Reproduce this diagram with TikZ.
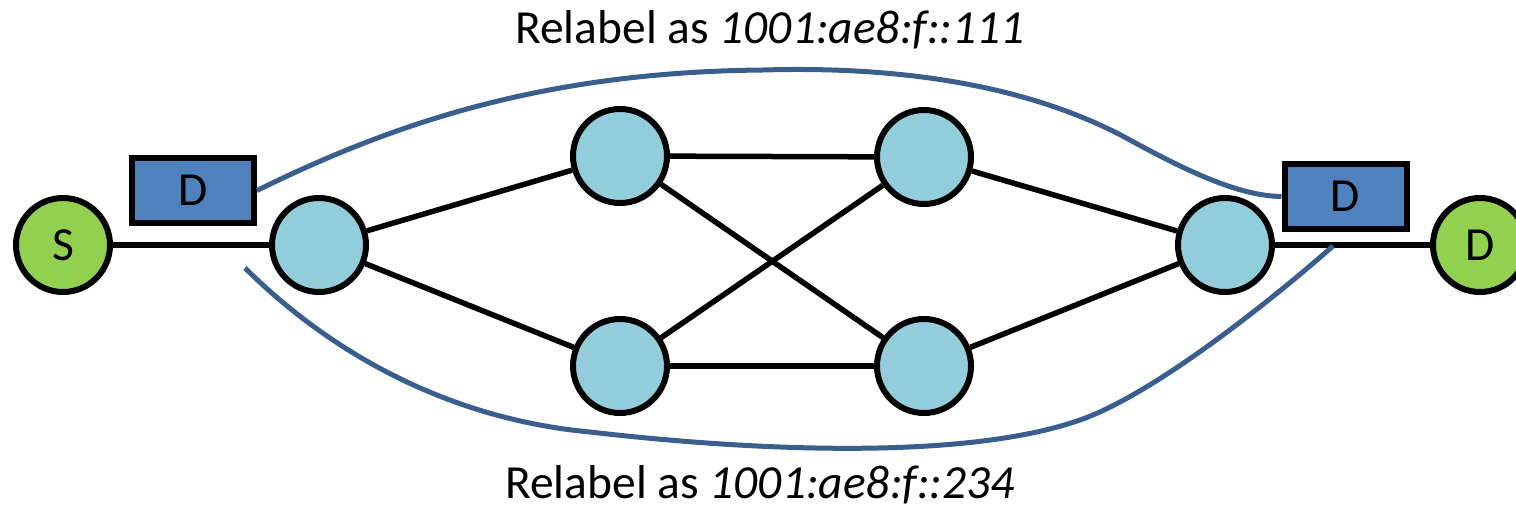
\documentclass[tikz,border=0pt]{standalone}
\usepackage{fontspec}
\setmainfont{Carlito}
\definecolor{hostgreen}{HTML}{92D050}
\definecolor{routerblue}{HTML}{92CDDC}
\definecolor{hdrblue}{HTML}{4F81BD}
\definecolor{pathblue}{HTML}{3A5F8E}
\begin{document}
\begin{tikzpicture}[x=1pt,y=-1pt,
  font=\fontsize{47.5}{57}\selectfont,
  router/.style={circle, draw=black, line width=6pt, fill=routerblue,
                 minimum size=94pt, inner sep=0pt},
  host/.style={router, fill=hostgreen},
  hdr/.style={rectangle, draw=black, line width=6pt, fill=hdrblue,
              minimum width=122pt, minimum height=65pt, inner sep=0pt},
  link/.style={line width=5.5pt, black},
  relabel/.style={line width=5pt, pathblue},
  caption/.style={anchor=base, inner sep=0pt}]
\useasboundingbox (0,0) rectangle (1516,508);

% hosts and routers
\node[host]   (S)  at (63,245)   {S};
\node[router] (A)  at (319,245)  {};
\node[router] (TL) at (620,156)  {};
\node[router] (TR) at (924,157)  {};
\node[router] (BL) at (620,366)  {};
\node[router] (BR) at (924,366)  {};
\node[router] (F)  at (1225,245) {};
\node[host]   (Dh) at (1480,245) {D};

% headers
\node[hdr] (LD) at (193,190.5)  {D};
\node[hdr] (RD) at (1345.5,196.5) {D};

% links
\draw[link] (S) -- (A);
\draw[link] (A) -- (TL);
\draw[link] (A) -- (BL);
\draw[link] (TL) -- (TR);
\draw[link] (BL) -- (BR);
\draw[link] (TL) -- (BR);
\draw[link] (BL) -- (TR);
\draw[link] (TR) -- (F);
\draw[link] (BR) -- (F);
\draw[link] (F) -- (Dh);

% relabelling paths
\coordinate (lowstart) at (245,268);
\coordinate (lowend)   at (1333,246);
\draw[relabel] (LD.east)
  .. controls (400,120) and (550,72) .. (763,70)
  .. controls (900,66) and (1030,85) .. (1130,140)
  .. controls (1200,178.5) and (1245,196) .. (RD.west);
\draw[relabel] (lowstart)
  .. controls (340,362) and (460,420) .. (590,432)
  .. controls (740,449.5) and (960,462) .. (1080,420)
  .. controls (1160,392) and (1288,286) .. (lowend);

% captions
\node[caption] (top) at (770,44)  {Relabel as \textit{1001:ae8:f::111}};
\node[caption] (bot) at (760,498) {Relabel as \textit{1001:ae8:f::234}};
\end{tikzpicture}
\end{document}
